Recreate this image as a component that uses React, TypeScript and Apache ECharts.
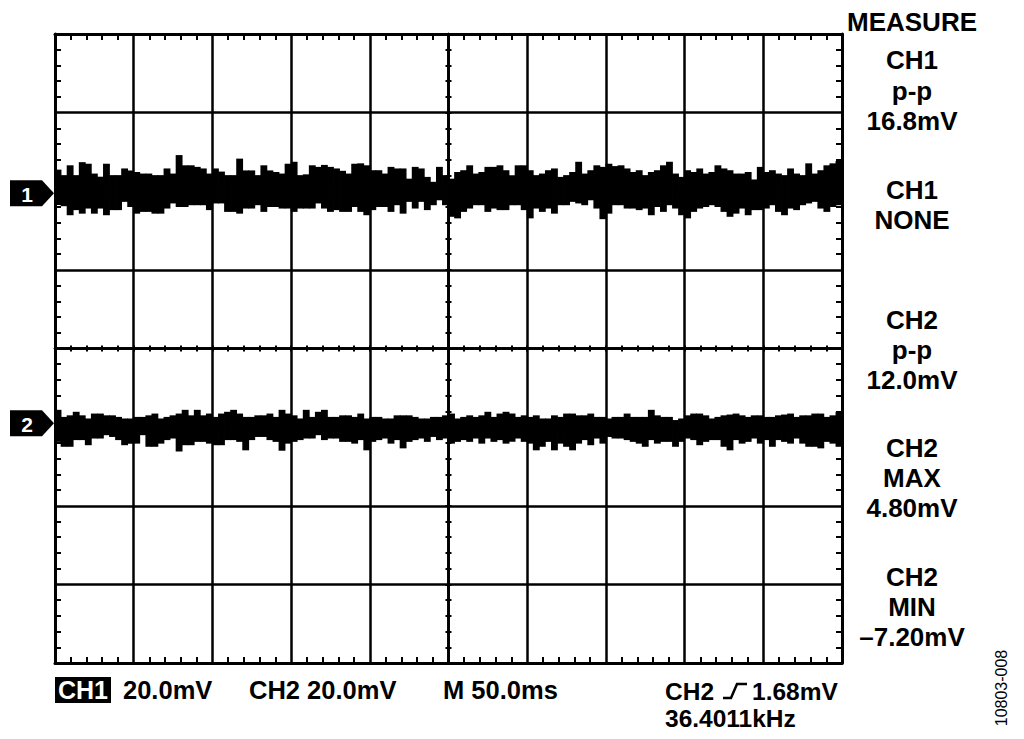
import React, { useEffect, useRef } from "react";
import * as echarts from "echarts";

// ---- data (mV, relative to each channel's ground marker) ----
const CH1_OFFSET_MV = 39.5;
const CH2_OFFSET_MV = -19;
const TIME_MIN_DIV = -5;
const TIME_MAX_DIV = 5;

const ch1High = [
  6.0, 4.6, 7.1, 4.6, 7.9, 7.5, 5.0, 4.2, 7.5, 4.6,
  4.6, 6.3, 5.8, 5.4, 5.0, 5.0, 4.6, 4.6, 6.3, 5.0,
  9.7, 7.1, 7.1, 6.7, 6.3, 5.0, 6.3, 5.5, 4.6, 4.6,
  8.8, 5.8, 5.8, 4.6, 7.1, 5.8, 5.4, 5.0, 7.5, 8.0,
  4.6, 4.8, 7.1, 6.7,
  7.2, 6.7, 6.3, 5.7, 5.0, 7.5, 7.6, 7.1, 5.85, 5.85,
  5.0, 6.7, 6.3, 6.3, 3.7, 6.7, 6.3, 4.15, 2.9, 6.7,
  4.6, 3.7, 5.4, 5.85, 7.1, 5.0, 5.4, 6.7, 6.7, 7.1,
  5.85, 4.6, 7.1, 7.1, 5.85, 4.6, 5.0, 5.85, 6.3, 4.15,
  4.6, 5.4, 8.0,
  5.0, 5.85, 7.1, 6.7, 7.5, 6.9, 7.1, 6.3, 5.4, 5.85,
  4.6, 5.4, 5.85, 7.1, 8.0, 5.0, 4.15, 5.85, 5.4, 6.3,
  5.0, 5.4, 7.1, 6.3, 5.85, 5.0, 5.0, 5.4, 3.5, 6.7,
  5.4, 5.85, 5.0, 4.6, 6.3, 5.0, 4.6, 7.6, 5.0, 5.85,
  7.1, 7.6, 8.2,
];
const ch1Low = [
  -3.0, -3.3, -5.6, -4.3, -5.2, -3.9, -5.2, -3.9, -5.6, -4.3,
  -4.3, -2.2, -3.5, -5.2, -4.75, -4.75, -5.2, -5.2, -3.9, -2.6,
  -3.5, -3.5, -3.05, -3.05, -3.05, -4.3, -2.6, -2.6, -4.75, -4.75,
  -5.2, -3.9, -3.9, -3.05, -4.75, -3.5, -3.5, -3.9, -3.9, -4.75,
  -3.9, -3.9, -3.9, -2.6,
  -3.9, -4.75, -4.3, -4.75, -4.75, -3.5, -4.75, -5.6, -4.3, -3.5,
  -3.5, -4.75, -3.05, -5.2, -2.2, -3.9, -2.2, -4.3, -3.05, -1.8,
  -3.05, -6.0, -6.4, -4.75, -3.9, -3.05, -3.05, -4.75, -3.9, -4.3,
  -4.3, -3.05, -3.05, -4.3, -6.4, -3.9, -4.75, -3.9, -5.2, -3.05,
  -3.05, -2.2, -2.6,
  -3.05, -1.8, -3.9, -6.6, -5.2, -3.05, -3.05, -3.9, -3.9, -4.3,
  -3.9, -5.6, -3.5, -4.75, -3.05, -3.9, -5.6, -6.4, -4.75, -3.9,
  -3.5, -3.05, -3.5, -4.75, -6.0, -5.2, -3.9, -5.6, -4.3, -4.3,
  -3.9, -3.05, -4.75, -5.6, -3.9, -4.3, -3.05, -2.6, -2.2, -3.9,
  -4.75, -3.5, -3.05,
];
const ch2High = [
  3.4, 1.6, 2.0, 2.9, 2.0, 1.2, 2.45, 2.45, 2.0, 2.0,
  1.6, 1.2, 1.2, 1.6, 1.6, 2.0, 2.45, 1.2, 1.6, 2.0,
  2.45, 3.4, 2.0, 3.4, 2.0, 2.45, 1.6, 2.45, 2.9, 3.4,
  2.45, 1.6, 1.6, 2.0, 2.0, 2.45, 1.6, 3.4, 2.45, 2.0,
  1.2, 3.4, 1.6, 2.9,
  3.4, 1.6, 1.6, 2.0, 2.0, 1.6, 2.45, 1.2, 1.6, 1.6,
  1.2, 1.2, 2.0, 2.0, 2.0, 1.6, 1.2, 1.2, 1.6, 1.6,
  2.0, 2.45, 1.2, 1.6, 2.0, 1.6, 2.0, 2.9, 1.6, 2.45,
  2.9, 2.45, 1.6, 2.0, 1.6, 2.0, 1.2, 1.2, 2.0, 1.6,
  2.45, 2.45, 2.0,
  2.0, 2.45, 1.6, 1.6, 1.2, 1.6, 1.6, 2.45, 1.6, 1.6,
  1.6, 3.4, 2.0, 1.6, 1.6, 0.8, 1.2, 2.0, 2.45, 2.45,
  2.0, 1.2, 1.6, 2.0, 2.2, 2.45, 2.0, 1.6, 2.0, 2.0,
  1.6, 1.6, 2.0, 2.2, 2.45, 1.6, 2.0, 2.0, 2.45, 2.45,
  1.6, 2.0, 2.9,
];
const ch2Low = [
  -4.75, -6.0, -6.0, -4.3, -4.3, -5.6, -3.9, -3.9, -3.05, -3.5,
  -4.3, -5.6, -5.2, -5.2, -3.05, -6.0, -6.0, -5.2, -4.3, -3.9,
  -7.2, -5.6, -5.6, -4.75, -4.75, -5.2, -5.6, -5.6, -4.3, -4.3,
  -4.75, -6.9, -4.3, -3.5, -3.5, -4.3, -4.75, -7.0, -5.2, -4.75,
  -4.3, -3.9, -3.9, -3.05,
  -4.3, -3.9, -3.9, -4.75, -4.75, -5.2, -4.3, -6.9, -4.75, -4.3,
  -3.9, -5.2, -4.3, -6.4, -4.75, -4.3, -3.9, -4.75, -3.5, -4.3,
  -3.9, -5.2, -4.75, -4.3, -4.75, -3.9, -5.2, -3.9, -4.75, -4.3,
  -5.2, -4.75, -3.9, -4.75, -5.2, -6.9, -6.0, -4.75, -6.9, -5.2,
  -6.0, -6.9, -5.2,
  -4.3, -5.6, -3.9, -5.2, -3.5, -3.9, -3.9, -4.3, -4.75, -5.2,
  -6.0, -4.3, -5.2, -4.75, -4.75, -6.0, -4.75, -3.9, -4.3, -5.6,
  -4.75, -4.3, -4.3, -6.0, -6.9, -4.3, -5.2, -4.75, -3.9, -5.2,
  -4.3, -6.0, -4.3, -4.75, -5.2, -3.9, -5.2, -6.0, -6.0, -6.4,
  -4.75, -5.2, -6.0,
];

const measureLines = [
  "MEASURE",
  "CH1", "p-p", "16.8mV",
  "CH1", "NONE",
  "CH2", "p-p", "12.0mV",
  "CH2", "MAX", "4.80mV",
  "CH2", "MIN", "\u20137.20mV",
];

const FONT = '"Liberation Sans", Arial, Helvetica, sans-serif';
const INK = "#000";

function edgeXAxis(position: "top" | "bottom", withGrid: boolean) {
  return {
    type: "value",
    min: TIME_MIN_DIV,
    max: TIME_MAX_DIV,
    interval: 1,
    position,
    axisLine: { show: true, onZero: false, lineStyle: { color: INK, width: 3 } },
    axisTick: { show: false, inside: true },
    minorTick: { show: true, splitNumber: 5, length: 6, lineStyle: { color: INK, width: 2 } },
    axisLabel: { show: false },
    splitLine: { show: withGrid, lineStyle: { color: INK, width: 2.5 } },
  };
}
function edgeYAxis(position: "left" | "right", withGrid: boolean) {
  return {
    type: "value",
    min: -80,
    max: 80,
    interval: 20,
    position,
    axisLine: { show: true, onZero: false, lineStyle: { color: INK, width: 3 } },
    axisTick: { show: false, inside: true },
    minorTick: { show: true, splitNumber: 5, length: 6, lineStyle: { color: INK, width: 2 } },
    axisLabel: { show: false },
    splitLine: { show: withGrid, lineStyle: { color: INK, width: 2.5 } },
  };
}
function centerXAxis(inside: boolean) {
  return {
    type: "value",
    min: TIME_MIN_DIV,
    max: TIME_MAX_DIV,
    interval: 1,
    position: "bottom",
    axisLine: { show: true, onZero: true, onZeroAxisIndex: 0, lineStyle: { color: INK, width: 2.5 } },
    axisTick: { show: true, inside, length: 3, lineStyle: { color: INK, width: 2 } },
    minorTick: { show: true, splitNumber: 5, length: 3, lineStyle: { color: INK, width: 2 } },
    axisLabel: { show: false },
    splitLine: { show: false },
  };
}
function centerYAxis(inside: boolean) {
  return {
    type: "value",
    min: -80,
    max: 80,
    interval: 20,
    position: "left",
    axisLine: { show: true, onZero: true, onZeroAxisIndex: 0, lineStyle: { color: INK, width: 2.5 } },
    axisTick: { show: true, inside, length: 3, lineStyle: { color: INK, width: 2 } },
    minorTick: { show: true, splitNumber: 5, length: 3, lineStyle: { color: INK, width: 2 } },
    axisLabel: { show: false },
    splitLine: { show: false },
  };
}

function traceSeries(name: string, high: number[], low: number[], offset: number) {
  const n = Math.min(high.length, low.length);
  const step = (TIME_MAX_DIV - TIME_MIN_DIV) / n;
  const data = [];
  for (let i = 0; i < n; i++) {
    data.push([TIME_MIN_DIV + i * step, offset + low[i], offset + high[i]]);
  }
  return {
    type: "custom",
    name,
    coordinateSystem: "cartesian2d",
    xAxisIndex: 0,
    yAxisIndex: 0,
    silent: true,
    clip: true,
    encode: { x: 0, y: [1, 2] },
    data,
    renderItem: (_params: any, api: any) => {
      const x0 = api.value(0);
      const a = api.coord([x0, api.value(2)]);
      const b = api.coord([x0 + step, api.value(1)]);
      return {
        type: "rect",
        shape: { x: a[0] - 0.4, y: a[1], width: b[0] - a[0] + 0.8, height: b[1] - a[1] },
        style: { fill: INK },
      };
    },
  };
}

function markerSeries(label: string, offset: number) {
  return {
    type: "custom",
    coordinateSystem: "cartesian2d",
    xAxisIndex: 0,
    yAxisIndex: 0,
    silent: true,
    clip: false,
    data: [[TIME_MIN_DIV, offset]],
    renderItem: (_params: any, api: any) => {
      const p = api.coord([api.value(0), api.value(1)]);
      return {
        type: "group",
        children: [
          {
            type: "polygon",
            shape: {
              points: [
                [p[0] - 45, p[1] - 13],
                [p[0] - 13, p[1] - 13],
                [p[0] - 1, p[1]],
                [p[0] - 13, p[1] + 13],
                [p[0] - 45, p[1] + 13],
              ],
            },
            style: { fill: INK },
          },
          {
            type: "text",
            style: {
              text: label,
              x: p[0] - 28,
              y: p[1] + 1,
              fill: "#fff",
              font: `bold 21px ${FONT}`,
              align: "center",
              verticalAlign: "middle",
              textAlign: "center",
              textVerticalAlign: "middle",
            },
          },
        ],
      };
    },
  };
}

function txt(text: string, x: number, y: number, align: string, size = 25.5, weight = "bold", fill = INK) {
  return {
    type: "text",
    x,
    y,
    style: {
      text,
      fill,
      font: `${weight} ${size}px ${FONT}`,
      align,
      verticalAlign: "middle",
      textAlign: align,
      textVerticalAlign: "middle",
    },
  };
}

function buildOption() {
  const measureY = [22, 60, 91, 121, 190, 220, 320, 350, 380, 448, 478, 508, 577, 607, 637];
  const graphics: any[] = measureLines.map((t, i) => txt(t, 912, measureY[i], "center", 26));

  graphics.push({ type: "rect", shape: { x: 55, y: 677, width: 56, height: 26 }, style: { fill: INK } });
  graphics.push(txt("CH1", 83, 690, "center", 25, "bold", "#fff"));
  graphics.push(txt("20.0mV", 123, 690, "left"));
  graphics.push(txt("CH2 20.0mV", 249, 690, "left"));
  graphics.push(txt("M 50.0ms", 443, 690, "left"));
  graphics.push(txt("CH2", 665, 691, "left", 24.5));
  graphics.push({
    type: "polyline",
    shape: { points: [[723, 698], [731, 698], [737, 684], [747, 684]] },
    style: { stroke: INK, lineWidth: 2.5, fill: null },
  });
  graphics.push(txt("1.68mV", 752, 691, "left", 24.5));
  graphics.push(txt("36.4011kHz", 665, 718, "left", 24.5));
  graphics.push({
    type: "text",
    x: 1001,
    y: 688,
    rotation: Math.PI / 2,
    style: {
      text: "10803-008",
      fill: INK,
      font: `16px ${FONT}`,
      align: "center",
      verticalAlign: "middle",
      textAlign: "center",
      textVerticalAlign: "middle",
    },
  });

  return {
    animation: false,
    backgroundColor: "#fff",
    grid: { left: 55, top: 34, width: 787, height: 629, containLabel: false },
    xAxis: [edgeXAxis("bottom", true), edgeXAxis("top", false), centerXAxis(true), centerXAxis(false)],
    yAxis: [edgeYAxis("left", true), edgeYAxis("right", false), centerYAxis(true), centerYAxis(false)],
    series: [
      traceSeries("CH1", ch1High, ch1Low, CH1_OFFSET_MV),
      traceSeries("CH2", ch2High, ch2Low, CH2_OFFSET_MV),
      markerSeries("1", CH1_OFFSET_MV),
      markerSeries("2", CH2_OFFSET_MV),
    ],
    graphic: graphics,
  };
}

export default function App() {
  const ref = useRef<HTMLDivElement>(null);
  useEffect(() => {
    if (!ref.current) return;
    const chart = echarts.init(ref.current, null, { renderer: "svg" });
    chart.setOption(buildOption() as any);
    return () => chart.dispose();
  }, []);
  return (
    <div
      ref={ref}
      style={{ position: "fixed", left: 0, top: 0, width: 1024, height: 739, background: "#fff" }}
    />
  );
}
